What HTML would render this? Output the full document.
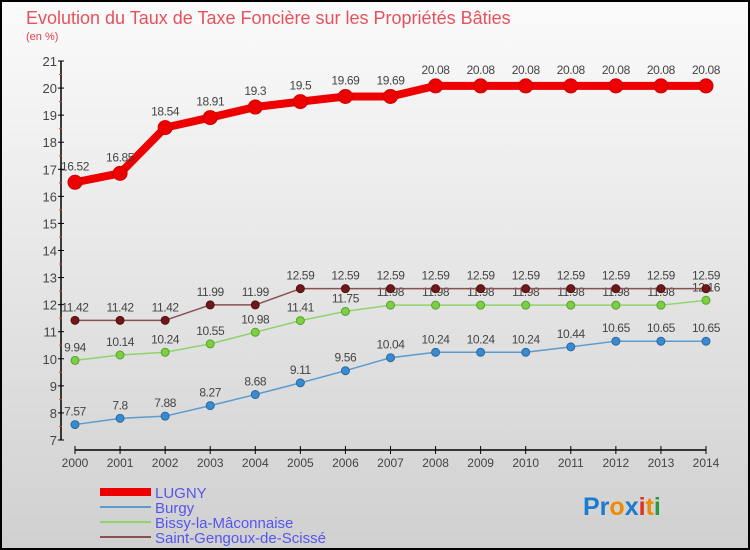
<!DOCTYPE html>
<html><head><meta charset="utf-8"><style>
body{margin:0;width:750px;height:550px;overflow:hidden;font-family:"Liberation Sans",sans-serif}
svg{display:block}
</style></head><body>
<svg id="c" width="750" height="550" xmlns="http://www.w3.org/2000/svg">
<defs><linearGradient id="bg" x1="0" y1="0" x2="0" y2="1"><stop offset="0" stop-color="#fbfbfb"/><stop offset="1" stop-color="#d0d0d0"/></linearGradient></defs>
<rect x="1" y="1" width="748" height="548" fill="url(#bg)" stroke="#000" stroke-width="2"/>
<text x="26" y="24" font-size="18" fill="#e8505a">Evolution du Taux de Taxe Foncière sur les Propriétés Bâties</text>
<text x="26" y="40" font-size="11" fill="#e0404a">(en %)</text>
<g id="axes"></g><g id="series"></g>
<g>
<rect x="100" y="488" width="51" height="8" fill="#e00"/><text x="155" y="498" font-size="15" fill="#5555ee">LUGNY</text>
<rect x="100" y="506" width="51" height="2" fill="#5b9bd0"/><text x="155" y="513" font-size="15" fill="#5555ee">Burgy</text>
<rect x="100" y="521" width="51" height="2" fill="#8fd46a"/><text x="155" y="528" font-size="15" fill="#5555ee">Bissy-la-Mâconnaise</text>
<rect x="100" y="536" width="51" height="2" fill="#8b5050"/><text x="155" y="543" font-size="15" fill="#5555ee">Saint-Gengoux-de-Scissé</text>
</g>
<g font-size="25" font-weight="bold">
<text x="583" y="515"><tspan fill="#1a7bd0">Pr</tspan><tspan fill="#f08a00">o</tspan><tspan fill="#1a7bd0">x</tspan><tspan fill="#e03020">i</tspan><tspan fill="#f08a00">t</tspan><tspan fill="#2a9a40">i</tspan></text>
</g>
</svg>
<script>
const years=["2000","2001","2002","2003","2004","2005","2006","2007","2008","2009","2010","2011","2012","2013","2014"];
const yTicks=[7,8,9,10,11,12,13,14,15,16,17,18,19,20,21];
const lugny=[16.52,16.85,18.54,18.91,19.3,19.5,19.69,19.69,20.08,20.08,20.08,20.08,20.08,20.08,20.08];
const burgy=[7.57,7.8,7.88,8.27,8.68,9.11,9.56,10.04,10.24,10.24,10.24,10.44,10.65,10.65,10.65];
const bissy=[9.94,10.14,10.24,10.55,10.98,11.41,11.75,11.98,11.98,11.98,11.98,11.98,11.98,11.98,12.16];
const saint=[11.42,11.42,11.42,11.99,11.99,12.59,12.59,12.59,12.59,12.59,12.59,12.59,12.59,12.59,12.59];
const NS="http://www.w3.org/2000/svg";
const xs=i=>75+i*(706-75)/14;
const ys=v=>440-(v-7)*(440-61)/14;
function mk(t,a,p,txt){const e=document.createElementNS(NS,t);for(const k in a)e.setAttribute(k,a[k]);if(txt!==undefined)e.textContent=txt;p.appendChild(e);return e;}
const ax=document.getElementById('axes');
let e=mk('line',{x1:61,y1:61,x2:61,y2:440,stroke:'#000','stroke-width':1.5},ax);


e=mk('line',{x1:75,y1:450,x2:706,y2:450,stroke:'#000','stroke-width':1.5},ax);


yTicks.forEach((v,i)=>{const y=ys(v);
mk('line',{x1:58,y1:y,x2:64,y2:y,stroke:'#000'},ax);
if(i<yTicks.length-1)mk('line',{x1:59,y1:ys(v+0.5),x2:62,y2:ys(v+0.5),stroke:'#e33'},ax);
e=mk('text',{x:57,y:y+5,'text-anchor':'end','font-size':13,fill:'#444'},ax,String(v));

});
years.forEach((yr,i)=>{const x=xs(i);mk('line',{x1:x,y1:446,x2:x,y2:454,stroke:'#000'},ax);
e=mk('text',{x:x,y:467,'text-anchor':'middle','font-size':12,fill:'#444'},ax,yr);

});
const sg=document.getElementById('series');
function draw(data,name,col,lw,r,fill,stroke){
const g=mk('g',{},sg);


const pl=mk('polyline',{points:data.map((v,i)=>xs(i)+','+ys(v)).join(' '),fill:'none',stroke:col,'stroke-width':lw,'stroke-linejoin':'round'},g);

data.forEach((v,i)=>{const c=mk('circle',{cx:xs(i),cy:ys(v),r:r,fill:fill,stroke:stroke,'stroke-width':1},g);


const t=mk('text',{x:xs(i),y:ys(v)-(r+5),'text-anchor':'middle','font-size':12,'letter-spacing':'-0.4',fill:'#444'},g,String(v));

});}
draw(burgy,'burgy','#5b9bd0',1.5,4,'#3a8ad0','#2a6aa0');
draw(bissy,'bissy','#8fd46a',1.5,4,'#7ad040','#5aa030');
draw(saint,'saint-gengoux','#8b5050',1.5,4,'#701818','#501010');
draw(lugny,'lugny','#e00',8,7,'#e00','#c00');
</script>
</body></html>
